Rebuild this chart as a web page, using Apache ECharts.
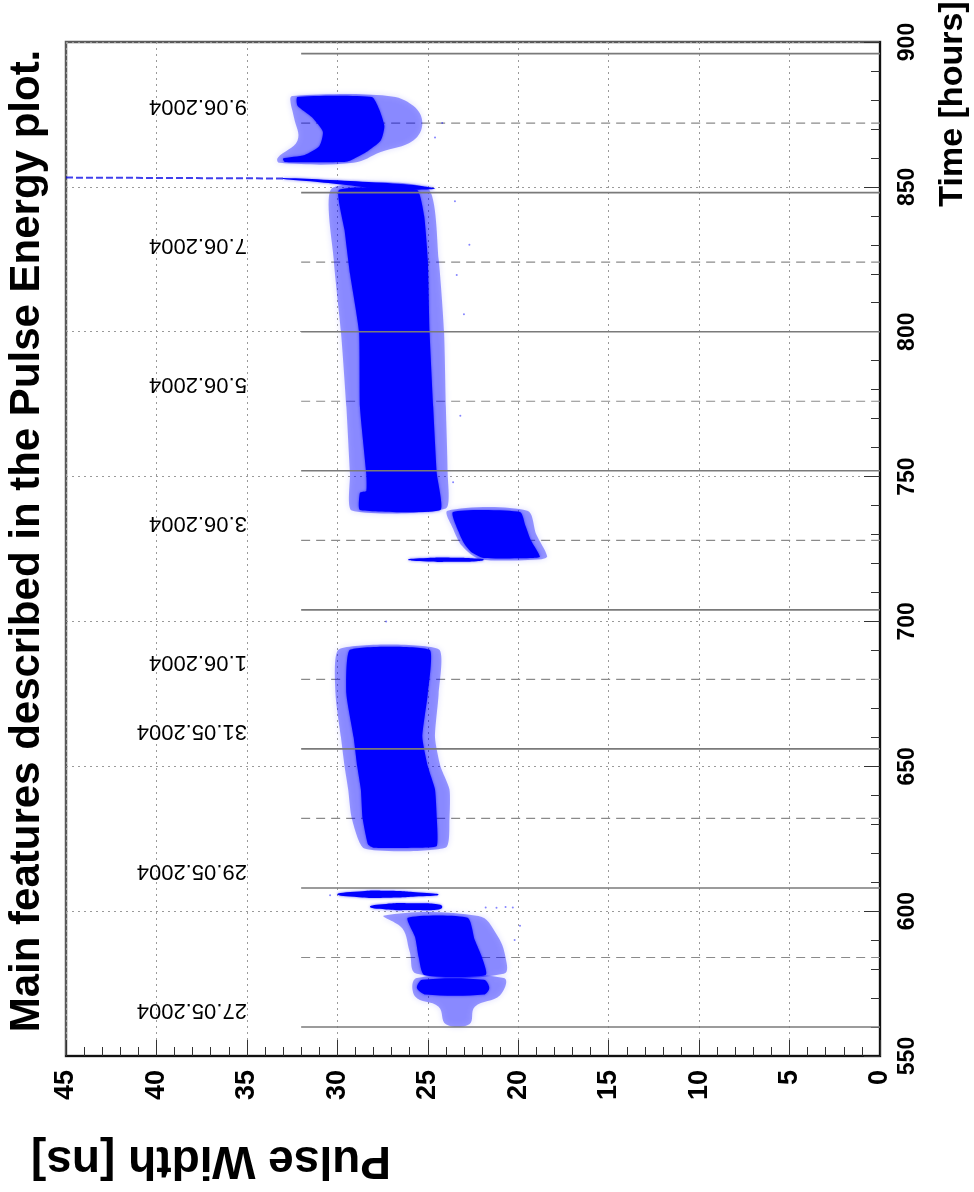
<!DOCTYPE html>
<html>
<head>
<meta charset="utf-8">
<script src="https://cdn.jsdelivr.net/npm/echarts@6/dist/echarts.min.js"></script>
<style>
  html, body { margin: 0; padding: 0; background: #fff; }
  #chart { width: 974px; height: 1192px; }
</style>
</head>
<body>
<div id="chart"></div>
<script>
// Texts
const titleText = 'Main features described in the Pulse Energy plot.';
const widthAxisName = 'Pulse Width [ns]';
const timeAxisName = 'Time [hours]';

// Axis ranges
const widthRange = [0, 45];
const timeRange = [550, 900];

// Day markers: solid every 48 h, dashed in between, starting at 32 ns
const solidDayLines = [560, 608, 656, 704, 752, 800, 848, 896];
const dashedDayLines = [584, 632, 680, 728, 776, 824, 872];
const dayLineStartWidth = 32;

// Date labels [hours]
const dateNames = ['27.05.2004', '29.05.2004', '31.05.2004', '1.06.2004', '3.06.2004', '5.06.2004', '7.06.2004', '9.06.2004'];
const dateHours = [566, 614, 662, 686, 734, 782, 830, 878];
const dateLabelWidth = 35;

// Point clouds, outlines as [hours, pulse width]
const may27LowCore = [[576.3, 25.3], [576.3, 21.9], [573.5, 21.6], [571.2, 21.9], [571.2, 25.1], [573.5, 25.6]];
const may27LowHalo = [[576.9, 25.6], [576.9, 20.8], [571, 21.0], [567, 22.4], [561, 22.7], [561, 24.0], [567, 24.4], [570.5, 25.7]];
const may27HighCore = [[597.7, 26.1], [597.7, 22.8], [590, 22.4], [584, 22.0], [578, 21.8], [578, 25.2], [584, 25.5], [591, 25.7]];
const may27HighHalo = [[598.5, 27.4], [598.3, 22.2], [592, 21.2], [584, 20.7], [578.4, 20.8], [578.4, 25.6], [586, 26.0], [594, 26.4]];
const streakEarly = [[601.5, 28.2], [602.5, 27.3], [602.7, 25.8], [602.3, 24.4], [601.5, 24.2], [600.6, 24.4], [600.4, 25.8], [600.6, 27.3]];
const streakLate = [[605.8, 30.0], [606.8, 28.8], [607.0, 27.2], [606.4, 25.5], [605.7, 24.4], [605.1, 25.5], [604.6, 27.2], [604.8, 28.8]];
const may29Core = [[690.2, 29.3], [690.2, 24.9], [675, 25.0], [660, 25.3], [650, 25.0], [642, 24.6], [632, 24.5], [622.5, 24.5], [621.9, 25.5], [621.9, 28.0], [623, 28.3], [632, 28.6], [642, 28.7], [650, 28.9], [660, 29.1], [675, 29.5]];
const may29Halo = [[690.4, 29.9], [690.4, 24.4], [675, 24.4], [660, 24.6], [650, 24.3], [642, 23.8], [632, 23.8], [622, 24.0], [621.6, 28.5], [632, 29.2], [642, 29.4], [650, 29.6], [660, 29.8], [675, 30.1]];
const jun3Core = [[737.8, 23.6], [737.8, 19.9], [733, 19.6], [728, 19.3], [722.3, 18.8], [721.9, 19.2], [721.9, 21.9], [724, 22.6], [727, 23.0], [731, 23.3]];
const jun3Halo = [[738.2, 23.9], [738.2, 19.5], [730, 19.0], [722.5, 18.4], [721.5, 18.7], [721.5, 22.1], [726, 23.1], [732, 23.6]];
const jun3Streak = [[721.3, 26.1], [721.9, 25.0], [722.0, 23.6], [721.7, 22.3], [721.3, 21.9], [720.8, 22.3], [720.6, 23.6], [720.7, 25.0]];
const jun3MainCore = [[849, 29.9], [849, 25.6], [840, 25.2], [825, 25.0], [800, 24.9], [774, 24.7], [751, 24.5], [738.5, 24.3], [738.5, 28.75], [744.4, 28.75], [745, 28.4], [751, 28.4], [774, 28.75], [800, 28.8], [820, 29.3], [835, 29.6]];
const jun3MainHalo = [[849.5, 30.3], [849.5, 25.0], [825, 24.4], [800, 24.1], [774, 24.0], [751, 23.9], [739, 24.0], [738.3, 29.2], [751, 29.3], [774, 29.5], [800, 29.8], [825, 30.2]];
const spikeDense = [[853.1, 33], [852.4, 30.4], [851.4, 27.5], [850.4, 25.5], [849.4, 24.6], [849.0, 25.5], [849.2, 27.5], [850.6, 29.5], [851.9, 31.5], [852.7, 33]];
const spikeSparse = [[853.2, 45], [852.9, 33]];
const jun9Core = [[881, 32.2], [881, 28.1], [877, 27.7], [871, 27.4], [866, 27.6], [862, 28.4], [859, 29.3], [858.6, 29.6], [858.6, 32.9], [859.8, 33.0], [861, 31.8], [864, 31.0], [869, 30.8], [874, 31.4], [878, 32.2]];
const jun9Halo = [[881.4, 32.5], [881.4, 27.2], [878, 25.8], [872, 25.3], [866, 25.8], [862, 27.6], [858.3, 29.1], [858.3, 33.2], [860, 33.3], [866, 32.2], [874, 32.4], [880, 32.6]];
const strayPoints = [[601.3, 21.8], [601.2, 21.2], [601.4, 20.7], [601.3, 20.3], [605.5, 30.4], [819.6, 23.4], [806, 23.0], [771, 23.2], [748, 23.6], [845, 23.5], [867, 24.6], [872, 24.2], [590, 20.2], [595, 19.9], [700, 27.3], [830, 22.7]];

const BLUE = '#0000ff';
const HALO = 'rgba(0, 0, 255, 0.38)';
const tickFont = '"Liberation Sans Narrow", "Liberation Sans", Arial, sans-serif';

function outlineSeries(points, fill, z, smooth, extra) {
  return {
    type: 'custom',
    coordinateSystem: 'cartesian2d',
    silent: true,
    clip: true,
    z: z,
    data: points.map(p => [p[1], p[0]]),
    renderItem(params, api) {
      if (params.dataIndex !== 0) return null;
      const pts = points.map(p => api.coord([p[1], p[0]]));
      return {
        type: 'polygon',
        shape: { points: pts, smooth: smooth || 0 },
        style: Object.assign({ fill: fill }, extra || {})
      };
    }
  };
}

function dayLineSeries(hours, style, z) {
  return {
    type: 'custom',
    coordinateSystem: 'cartesian2d',
    silent: true,
    z: z,
    data: hours.map(h => [dayLineStartWidth, h]),
    renderItem(params, api) {
      const a = api.coord([api.value(0), api.value(1)]);
      const b = api.coord([widthRange[0], api.value(1)]);
      return {
        type: 'line',
        shape: { x1: a[0], y1: a[1], x2: b[0], y2: b[1] },
        style: style
      };
    }
  };
}

const coreStyle = { shadowBlur: 3, shadowColor: 'rgba(0,0,255,0.6)' };
const haloStyle = { shadowBlur: 6, shadowColor: 'rgba(0,0,255,0.35)' };

const chart = echarts.init(document.getElementById('chart'));

const option = {
  backgroundColor: '#ffffff',
  animation: false,
  grid: {
    left: 66, top: 42, width: 814, height: 1014,
    show: true, borderColor: '#5a5a5a', borderWidth: 2.5, backgroundColor: 'transparent'
  },
  xAxis: {
    type: 'value', min: widthRange[0], max: widthRange[1], interval: 5, inverse: true,
    position: 'bottom',
    axisLine: { show: true, onZero: false, lineStyle: { color: '#111', width: 2 } },
    axisTick: { show: true, inside: true, length: 16, lineStyle: { color: '#333', width: 1 } },
    minorTick: { show: true, splitNumber: 5, length: 9, lineStyle: { color: '#333', width: 1 } },
    splitLine: { show: true, lineStyle: { color: '#9a9a9a', width: 1, type: [2, 4] } },
    axisLabel: { rotate: 90, margin: 14, color: '#000', fontFamily: tickFont, fontWeight: 'bold', fontSize: 27 }
  },
  yAxis: {
    type: 'value', min: timeRange[0], max: timeRange[1], interval: 50,
    position: 'right',
    axisLine: { show: true, onZero: false, lineStyle: { color: '#111', width: 2 } },
    axisTick: { show: true, inside: true, length: 16, lineStyle: { color: '#333', width: 1 } },
    minorTick: { show: true, splitNumber: 5, length: 9, lineStyle: { color: '#333', width: 1 } },
    splitLine: { show: true, lineStyle: { color: '#9a9a9a', width: 1, type: [2, 4] } },
    axisLabel: { rotate: 90, margin: 16, color: '#000', fontFamily: tickFont, fontWeight: 'bold', fontSize: 23 }
  },
  graphic: [
    {
      type: 'text', x: 27, y: 541, rotation: Math.PI / 2, silent: true,
      style: { text: titleText, fill: '#000', font: 'bold 42px "Liberation Sans", Arial, sans-serif', textAlign: 'center', textVerticalAlign: 'middle' }
    },
    {
      type: 'text', x: 953, y: 104, rotation: Math.PI / 2, silent: true,
      style: { text: timeAxisName, fill: '#000', font: 'bold 34px "Liberation Sans", Arial, sans-serif', textAlign: 'center', textVerticalAlign: 'middle' }
    },
    {
      type: 'text', x: 211, y: 1160, rotation: Math.PI, silent: true,
      style: { text: widthAxisName, fill: '#000', font: 'bold 46px "Liberation Sans", Arial, sans-serif', textAlign: 'center', textVerticalAlign: 'middle' }
    }
  ],
  series: [
    dayLineSeries(dashedDayLines, { stroke: '#8a8a8a', lineWidth: 1.2, lineDash: [9, 6] }, 1),
    outlineSeries(may27LowHalo, HALO, 2, 0.4, haloStyle),
    outlineSeries(may27HighHalo, HALO, 2, 0.4, haloStyle),
    outlineSeries(may29Halo, HALO, 2, 0.2, haloStyle),
    outlineSeries(jun3Halo, HALO, 2, 0.3, haloStyle),
    outlineSeries(jun3MainHalo, HALO, 2, 0.2, haloStyle),
    outlineSeries(jun9Halo, HALO, 2, 0.4, haloStyle),
    outlineSeries(may27LowCore, BLUE, 3, 0.3, coreStyle),
    outlineSeries(may27HighCore, BLUE, 3, 0.2, coreStyle),
    outlineSeries(streakEarly, BLUE, 3, 0.6, coreStyle),
    outlineSeries(streakLate, BLUE, 3, 0.6, coreStyle),
    outlineSeries(may29Core, BLUE, 3, 0.15, coreStyle),
    outlineSeries(jun3Core, BLUE, 3, 0.2, coreStyle),
    outlineSeries(jun3Streak, BLUE, 3, 0.6, coreStyle),
    outlineSeries(jun3MainCore, BLUE, 3, 0.15, coreStyle),
    outlineSeries(spikeDense, BLUE, 3, 0.4, coreStyle),
    outlineSeries(jun9Core, BLUE, 3, 0.2, coreStyle),
    {
      type: 'custom', coordinateSystem: 'cartesian2d', silent: true, z: 3,
      data: spikeSparse.map(p => [p[1], p[0]]),
      renderItem(params, api) {
        if (params.dataIndex !== 0) return null;
        const pts = spikeSparse.map(p => api.coord([p[1], p[0]]));
        return { type: 'polyline', shape: { points: pts }, style: { stroke: 'rgba(0,0,230,0.75)', lineWidth: 2, lineDash: [7, 3] } };
      }
    },
    {
      type: 'scatter', silent: true, z: 3, symbolSize: 2,
      itemStyle: { color: 'rgba(0,0,255,0.6)' },
      data: strayPoints.map(p => [p[1], p[0]])
    },
    dayLineSeries(solidDayLines, { stroke: '#7a7a7a', lineWidth: 1.6 }, 4),
    {
      type: 'custom', coordinateSystem: 'cartesian2d', silent: true, z: 5,
      data: dateHours.map(h => [dateLabelWidth, h]),
      renderItem(params, api) {
        const p = api.coord([api.value(0), api.value(1)]);
        return {
          type: 'text', x: p[0], y: p[1], rotation: Math.PI,
          style: { text: dateNames[params.dataIndex], fill: '#000', font: '22px "Liberation Sans", Arial, sans-serif', textAlign: 'left', textVerticalAlign: 'middle' }
        };
      }
    }
  ]
};

chart.setOption(option);
</script>
</body>
</html>
